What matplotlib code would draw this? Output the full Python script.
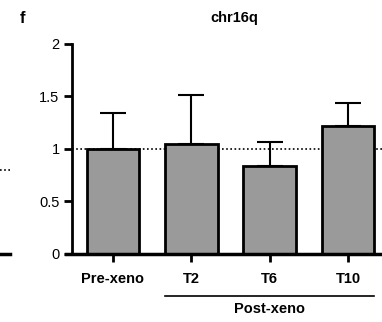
import numpy as np
import matplotlib
matplotlib.use("Agg")
import matplotlib.pyplot as plt

plt.rcParams['font.family'] = ['Liberation Sans', 'DejaVu Sans']

# data
groups = ['Pre-xeno', 'T2', 'T6', 'T10']
means = [1.0, 1.05, 0.84, 1.22]
errors = [0.34, 0.46, 0.23, 0.22]
yticks = [0, 0.5, 1, 1.5, 2]
ytick_labels = ['0', '0.5', '1', '1.5', '2']

fig = plt.figure(figsize=(3.82, 3.22), dpi=100)
ax = fig.add_axes([0.1885, 0.2112, 0.848, 0.6522])

x = np.arange(len(groups))
bw = 0.67

# reference line at 1
ax.axhline(1, color='black', linestyle=(0, (1, 1.5)), linewidth=1.2, zorder=1)

ax.bar(x, means, width=bw, color='#9a9a9a', edgecolor='black', linewidth=2, zorder=2)
ax.errorbar(x, means, yerr=[np.zeros(len(means)), errors], fmt='none',
            ecolor='black', elinewidth=1.5, capsize=9.5, capthick=1.5, zorder=1.5)

ax.set_xlim(-0.52, 3.61)
ax.set_ylim(0, 2)
ax.set_yticks(yticks)
ax.set_yticklabels(ytick_labels, fontsize=10.5)
ax.set_xticks(x)
ax.set_xticklabels(groups, fontsize=10.5, fontweight='bold')

for s in ['top', 'right', 'bottom']:
    ax.spines[s].set_visible(False)
ax.spines['left'].set_linewidth(2)
ax.tick_params(axis='both', width=2, length=6, direction='out', pad=3)
ax.tick_params(axis='x', pad=7)

# bottom axis line extends a bit left of the y axis
ax.plot([-0.6, 3.8], [0, 0], color='black', linewidth=2.5, clip_on=False, zorder=3)

# title and panel letter
fig.text(0.6126, 0.944, 'chr16q', fontsize=10.5, fontweight='bold', ha='center', va='center')
fig.text(0.058, 0.944, 'f', fontsize=12, fontweight='bold', ha='center', va='center')

# post-xeno group bracket
ax.plot([1 - bw / 2, 3 + bw / 2], [-0.4, -0.4], color='black', linewidth=1.2, clip_on=False)
ax.text(2.0, -0.52, 'Post-xeno', ha='center', va='center', fontsize=10.5, fontweight='bold')

# fragments of the neighbouring panel on the left
fig.add_artist(plt.Line2D([0, 0.026], [0.472, 0.472], color='black', linestyle=(0, (1, 1.5)), linewidth=1.2))
fig.add_artist(plt.Line2D([0, 0.026], [0.211, 0.211], color='black', linewidth=2.5))

fig.savefig('out.png', dpi=100)
